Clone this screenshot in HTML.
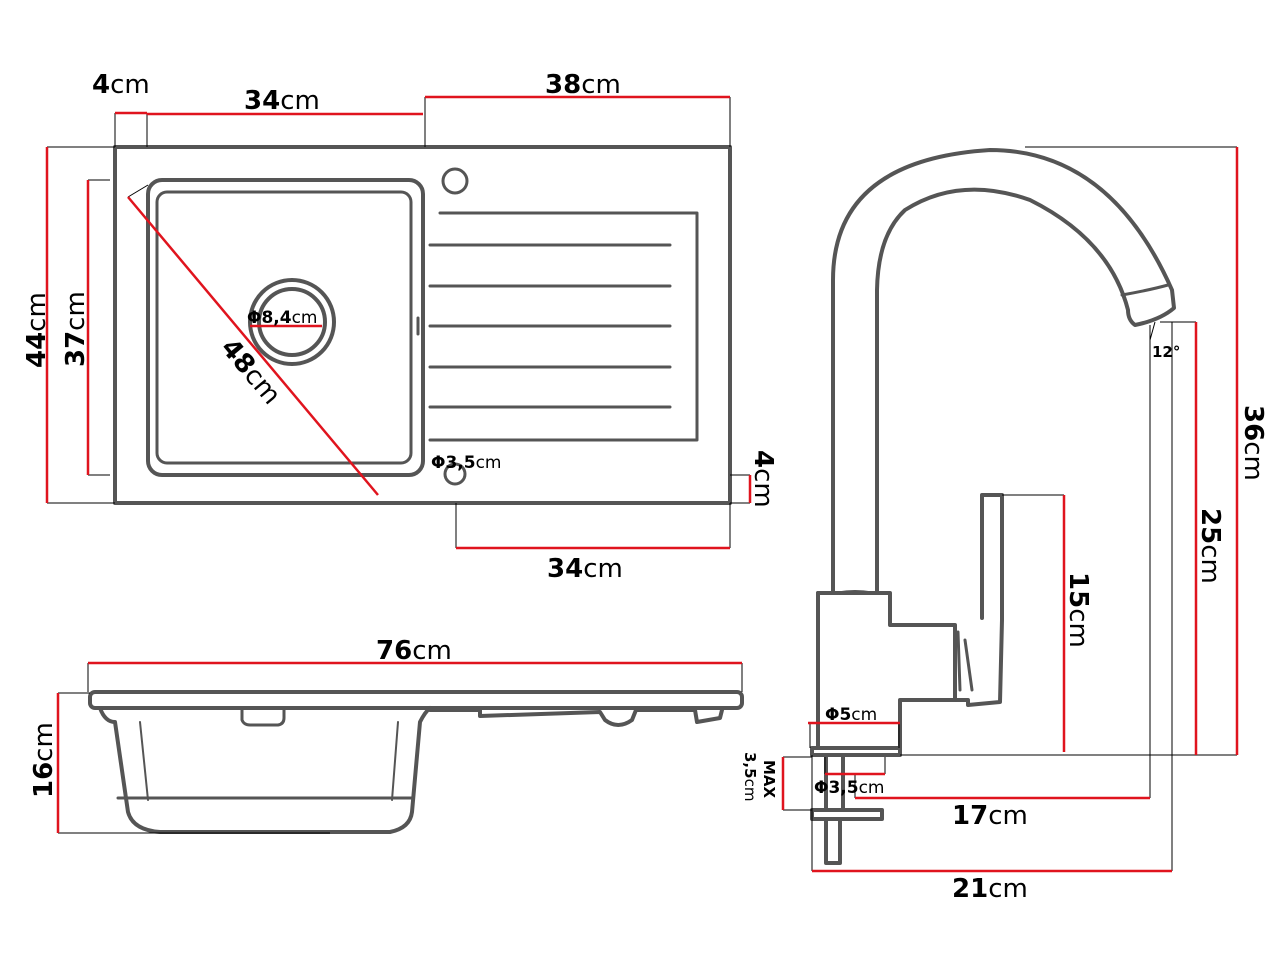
<!DOCTYPE html>
<html><head><meta charset="utf-8"><style>
html,body{margin:0;padding:0;background:#fff}
svg{display:block}
text{font-family:"DejaVu Sans","Liberation Sans",sans-serif;fill:#000}
.b{font-weight:bold}
</style></head><body>
<svg width="1280" height="960" viewBox="0 0 1280 960" xmlns="http://www.w3.org/2000/svg">
<g fill="none" stroke="#555" stroke-width="4" stroke-linejoin="round" stroke-linecap="round">
<rect x="115" y="147" width="615" height="356"/>
<rect x="148" y="180" width="275" height="295" rx="14"/>
<rect x="157" y="192" width="254" height="271" rx="10" stroke-width="3"/>
<circle cx="292" cy="322" r="42"/>
<circle cx="292" cy="322" r="33"/>
<circle cx="455" cy="181" r="12" stroke-width="3"/>
<circle cx="455" cy="474" r="10" stroke-width="3"/>
<path d="M440 213 L697 213 L697 440 L430 440" stroke-width="3"/>
<path d="M430 245 L670 245 M430 286 L670 286 M430 326 L670 326 M430 367 L670 367 M430 407 L670 407" stroke-width="3"/>
<path d="M418 318 L418 334" stroke-width="3"/>
<rect x="90" y="692" width="652" height="16" rx="5"/>
<path d="M100 708 Q105 722 115 722 L128 812 Q133 830 160 832 L390 832 Q410 828 412 812 L420 722 Q425 712 430 708"/>
<path d="M430 710 L480 710 L480 716 L600 712 L605 720 Q618 730 632 720 L636 710 L695 710 L697 722 L720 718 L722 710"/>
<path d="M242 708 L242 720 Q244 725 250 725 L278 725 Q284 724 284 718 L284 708" stroke-width="3"/>
<path d="M118 798 L412 798" stroke-width="3"/>
<path d="M140 722 L148 800 M398 722 L392 800" stroke-width="2"/>
<path d="M833 592 L833 280 Q833 160 990 150 Q1110 150 1172 290 L1174 308 Q1160 320 1135 325 Q1128 320 1128 310 Q1110 240 1030 200 Q960 175 905 210 Q878 235 877 290 L877 592"/>
<path d="M1122 295 Q1150 290 1168 285" stroke-width="3"/>
<path d="M818 593 L890 593 L890 625 L955 625 L955 700 L968 700 L968 705 L1000 702 L1002 620 L1002 495 L982 495 L982 618"/>
<path d="M955 700 L900 700 L900 748 L818 748 L818 593"/>
<path d="M958 632 L960 690 M965 640 L972 690" stroke-width="3"/>
<path d="M838 593 Q855 590 872 593" stroke-width="3"/>
<path d="M812 748 L900 748 L900 755 L812 755 Z"/>
<path d="M826 757 L826 810 M843 757 L843 810"/>
<rect x="812" y="810" width="70" height="9"/>
<rect x="826" y="819" width="14" height="44"/>
</g>
<g stroke="#000" stroke-width="1" fill="none">
<path d="M115 113 L115 147 M147 113 L147 147 M425 97 L425 147 M730 97 L730 147"/>
<path d="M47 147 L115 147 M47 503 L115 503 M88 180 L110 180 M88 475 L110 475"/>
<path d="M730 475 L750 475 M730 503 L750 503 M456 503 L456 548 M730 503 L730 548"/>
<path d="M88 663 L88 692 M742 663 L742 692 M58 693 L90 693 M58 833 L330 833"/>
<path d="M1025 147 L1237 147 M900 755 L1237 755 M1160 322 L1196 322 M1002 495 L1064 495"/>
<path d="M1150 325 L1150 798 M1172 322 L1172 871 M812 755 L812 871 M810 723 L810 748 M899 723 L899 748"/>
<path d="M783 757 L812 757 M783 810 L812 810 M825 757 L825 774 M885 757 L885 774 M855 774 L855 798"/>
<path d="M128 197 L148 185 M1155 322 L1150 340"/>
</g>
<g stroke="#e0141e" stroke-width="2.5" fill="none">
<path d="M115 113 L147 113 M147 114 L423 114 M425 97 L730 97"/>
<path d="M47 147 L47 503 M88 180 L88 475 M128 197 L378 495 M250 326 L322 326"/>
<path d="M750 475 L750 503 M456 548 L730 548"/>
<path d="M88 663 L742 663 M58 693 L58 833"/>
<path d="M1237 147 L1237 755 M1196 322 L1196 755 M1064 495 L1064 752"/>
<path d="M808 723 L900 723 M825 774 L885 774 M855 798 L1150 798 M812 871 L1172 871 M783 757 L783 810"/>
</g>
<g font-size="26">
<text x="92" y="93"><tspan class="b">4</tspan>cm</text>
<text x="244" y="109"><tspan class="b">34</tspan>cm</text>
<text x="545" y="93"><tspan class="b">38</tspan>cm</text>
<text x="547" y="577"><tspan class="b">34</tspan>cm</text>
<text x="376" y="659"><tspan class="b">76</tspan>cm</text>
<text x="952" y="824"><tspan class="b">17</tspan>cm</text>
<text x="952" y="897"><tspan class="b">21</tspan>cm</text>
<text transform="translate(45 368) rotate(-90)"><tspan class="b">44</tspan>cm</text>
<text transform="translate(84 367) rotate(-90)"><tspan class="b">37</tspan>cm</text>
<text transform="translate(52 798) rotate(-90)"><tspan class="b">16</tspan>cm</text>
<text transform="translate(755 450) rotate(90)"><tspan class="b">4</tspan>cm</text>
<text transform="translate(1245 405) rotate(90)"><tspan class="b">36</tspan>cm</text>
<text transform="translate(1202 508) rotate(90)"><tspan class="b">25</tspan>cm</text>
<text transform="translate(1070 572) rotate(90)"><tspan class="b">15</tspan>cm</text>
<text transform="translate(220 348) rotate(50)"><tspan class="b">48</tspan>cm</text>
</g>
<g font-size="17">
<text x="247" y="323"><tspan class="b">Φ8,4</tspan>cm</text>
<text x="431" y="468"><tspan class="b">Φ3,5</tspan>cm</text>
<text x="825" y="720"><tspan class="b">Φ5</tspan>cm</text>
<text x="814" y="793"><tspan class="b">Φ3,5</tspan>cm</text>
<text x="1152" y="357" font-size="15" class="b">12°</text>
<text transform="translate(764 760) rotate(90)" font-size="15" class="b">MAX</text>
<text transform="translate(745 752) rotate(90)" font-size="15"><tspan class="b">3,5</tspan>cm</text>
</g>
</svg>
</body></html>
